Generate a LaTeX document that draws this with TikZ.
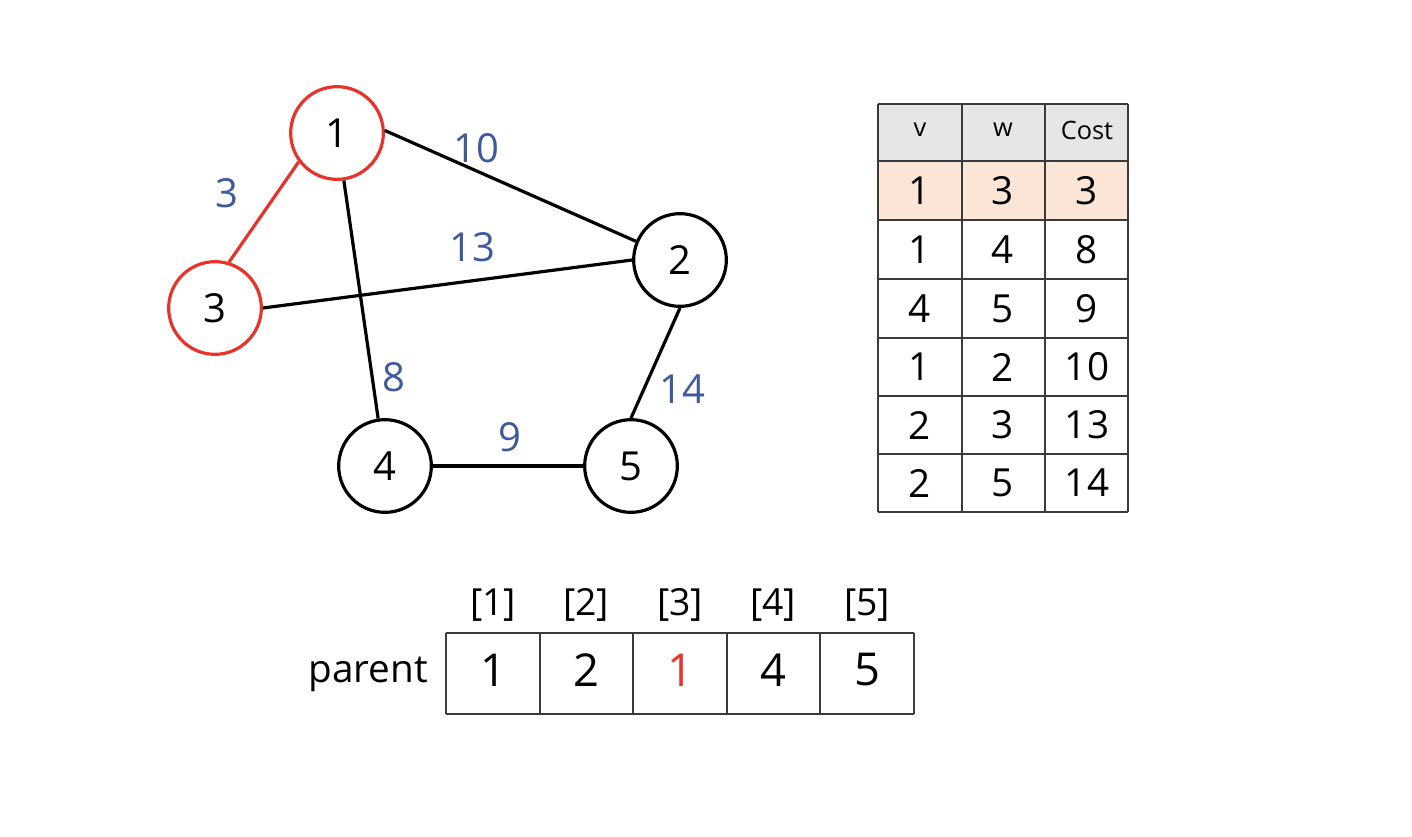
\documentclass[tikz,border=0pt]{standalone}
\usepackage{fontspec}
\setmainfont{Open Sans}
\definecolor{redc}{HTML}{E8322A}
\definecolor{bluec}{HTML}{3E5A9B}
\definecolor{hdr}{HTML}{E6E6E6}
\definecolor{hl}{HTML}{FBE5D6}
\definecolor{gridc}{HTML}{3A3A3A}
\begin{document}
\begin{tikzpicture}[x=0.75pt,y=-0.75pt,
  vert/.style={circle,draw=black,line width=2.4pt,minimum size=69.5pt,inner sep=0pt,font=\fontsize{30}{30}\selectfont},
  redv/.style={vert,draw=redc},
  edge/.style={line width=2.4pt},
  wlabel/.style={text=bluec,inner sep=0pt,font=\fontsize{30}{30}\selectfont},
  hcell/.style={inner sep=0pt,font=\fontsize{19}{19}\selectfont},
  bcell/.style={inner sep=0pt,font=\fontsize{29}{29}\selectfont},
  grid/.style={draw=gridc,line width=1.1pt},
  idx/.style={inner sep=0pt,font=\fontsize{28}{28}\selectfont},
  pval/.style={inner sep=0pt,font=\fontsize{34}{34}\selectfont}
]
\useasboundingbox (0,0) rectangle (1412,836);
% graph
\node[redv] (n1) at (337,133) {1};
\node[vert] (n2) at (680,260) {2};
\node[redv] (n3) at (215,308) {3};
\node[vert] (n4) at (385,466) {4};
\node[vert] (n5) at (631,466) {5};
\draw[edge,draw=redc] (n1.217) -- (n3.73);
\draw[edge] (n1) -- (n4);
\draw[edge] (n1.3) -- (n2.157);
\draw[edge] (n3.east) -- (n2.west);
\draw[edge] (n2.south) -- (n5.north);
\draw[edge] (n4.east) -- (n5.west);
\node[wlabel] (w10) at (476,148) {10};
\node[wlabel] (w3) at (227,193) {3};
\node[wlabel] (w13) at (472,247) {13};
\node[wlabel] (w8) at (394,377) {8};
\node[wlabel] (w14) at (682,389) {14};
\node[wlabel] (w9) at (510,437) {9};
% table
\fill[hdr] (878,104) rectangle (1128,161);
\fill[hl] (878,161) rectangle (1128,220);
\foreach \y in {104,161,220,279,338,396,454,512}
  \draw[grid] (878,\y) -- (1128,\y);
\foreach \x in {878,962,1045,1128}
  \draw[grid] (\x,104) -- (\x,512);
\node[hcell] (hv) at (920,130) {v};
\node[hcell] (hw) at (1003,130) {w};
\node[hcell] (hc) at (1087,130) {Cost};
\foreach \v/\w/\c/\y [count=\i] in {1/3/3/190.5,1/4/8/249.5,4/5/9/308.5,1/2/10/367,2/3/13/425,2/5/14/483}{
  \node[bcell] (tv\i) at (920,\y) {\v};
  \node[bcell] (tw\i) at (1003,\y) {\w};
  \node[bcell] (tc\i) at (1087,\y) {\c};
}
% parent array
\draw[grid] (446,633) -- (914,633);
\draw[grid] (446,714) -- (914,714);
\foreach \x in {446,540,633,727,820,914}
  \draw[grid] (\x,633) -- (\x,714);
\node[inner sep=0pt,font=\fontsize{29}{29}\selectfont,anchor=east] (plabel) at (428,674) {parent};
\foreach \x/\v [count=\i] in {493/1,586/2,680/1,773/4,867/5}{
  \node[idx] (ix\i) at (\x,605) {[\i]};
}
\node[pval] (p1) at (493,670) {1};
\node[pval] (p2) at (586,670) {2};
\node[pval,text=redc] (p3) at (680,670) {1};
\node[pval] (p4) at (773,670) {4};
\node[pval] (p5) at (867,670) {5};
\end{tikzpicture}
\end{document}
